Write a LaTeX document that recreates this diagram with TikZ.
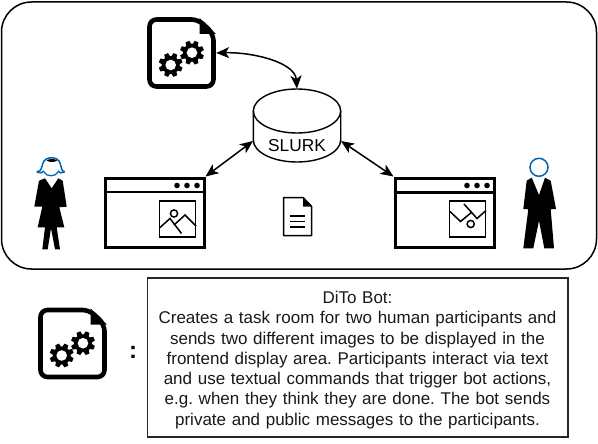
\documentclass[tikz,border=0pt]{standalone}
\usepackage{fontspec}
\setmainfont{Liberation Sans}
\usetikzlibrary{arrows.meta}
\tikzset{
  x=1pt,y=-1pt,
  link/.style={line width=1.5pt,{Stealth[length=13pt,width=11pt,inset=3.5pt]}-{Stealth[length=13pt,width=11pt,inset=3.5pt]}},
  hollow/.style={inner sep=0pt,draw=none},
  winframe/.style={draw,line width=3pt,inner sep=0pt,minimum width=99pt,minimum height=69pt},
  gear/.pic={
    \fill (0,0) circle (9);
    \foreach \a in {0,45,...,315}{\fill[rotate=\a+22.5] (-2.8,8) -- (-2,12) -- (2,12) -- (2.8,8) -- cycle;}
    \fill[white] (0,0) circle (5.3);
  },
  botdoc/.pic={
    \draw[line width=4.6pt,line join=round,rounded corners=7pt] (-32,-33.5) -- (17,-33.5) -- (32,-19) -- (32,33.5) -- (-32,33.5) -- cycle;
    \fill[line join=round] (18,-35) -- (34,-19.5) -- (34,-19) -- (18,-19) -- cycle;
    \pic at (-10.8,12) {gear};
    \pic at (10.5,-0.3) {gear};
  },
  dots/.pic={\foreach \d in {0,10,20}{\fill (\d,0) circle (2.8);}},
}
\begin{document}
\frenchspacing
\begin{tikzpicture}
\useasboundingbox (0,0) rectangle (598,444);
\fill[white] (0,0) rectangle (598,444);
% outer frame
\node[draw,line width=1.5pt,rounded corners=30pt,inner sep=0pt,minimum width=595pt,minimum height=267pt] (frame) at (299,135.5) {};
% bot
\node[hollow,minimum width=69pt,minimum height=72pt] (bot) at (181.5,53) {};
\pic at (bot.center) {botdoc};
% database
\node[hollow,minimum width=87.4pt,minimum height=73pt] (db) at (297,125.3) {};
\draw[line width=1.4pt] (253.3,111) arc[start angle=180,delta angle=360,x radius=43.7pt,y radius=22pt];
\draw[line width=1.4pt] (253.3,111) -- (253.3,140) arc[start angle=180,delta angle=180,x radius=43.7pt,y radius=22pt] -- (340.7,111);
\node[inner sep=0pt,font=\fontsize{17.3}{20}\selectfont] (slurk) at (297,145.5) {SLURK};
\coordinate (dbl) at (253,141);
\coordinate (dbr) at (341,141);
% left window
\node[winframe] (wl) at (154.5,212.5) {};
\draw[line width=2.8pt] (104,192) -- (205,192);
\pic at (177,185.5) {dots};
\node[draw,line width=1.9pt,inner sep=0pt,minimum width=36pt,minimum height=36pt] (il) at (177.5,219) {};
\draw[line width=1.5pt] (160,227.5) -- (170,218.5) -- (181.5,233.5);
\draw[line width=1.5pt] (174,225) -- (185,215) -- (196,226);
\draw[line width=1.5pt] (174,213.5) circle (3.6);
% right window
\node[winframe] (wr) at (444.5,212.5) {};
\draw[line width=2.8pt] (394,192.5) -- (495,192.5);
\pic at (467,185.5) {dots};
\node[draw,line width=1.9pt,inner sep=0pt,minimum width=36pt,minimum height=36pt] (ir) at (467.5,219) {};
\draw[line width=1.5pt] (450,211.5) -- (460.5,221.5) -- (472,212);
\draw[line width=1.5pt] (464,204) -- (477,218.5) -- (486,210.5);
\draw[line width=1.5pt] (470.7,224) circle (3.6);
% connectors
\draw[link] (bot.east) .. controls (252,52) and (295,62) .. (db.north);
\draw[link] (wl.north east) -- (dbl);
\draw[link] (dbr) -- (wr.north west);
% message document
\node[hollow,minimum width=29pt,minimum height=39pt] (msg) at (297.5,216.5) {};
\draw[line width=1.5pt,line join=round] (283.5,197.5) -- (303,197.5) -- (311.7,206.5) -- (311.7,235.5) -- (283.5,235.5) -- cycle;
\fill (303,197.5) -- (311.7,206.5) -- (303,206.5) -- cycle;
\foreach \yy in {216,221.3,226.8}{\draw[line width=1.5pt] (290,\yy) -- (305,\yy);}
% woman
\node[hollow,minimum width=32pt,minimum height=92pt] (woman) at (51.5,203.5) {};
\fill (45,178.3) -- (51.7,188.3) -- (58.3,178.3) -- (62.7,180.7) -- (66.7,206.7) -- (59.3,207.3) -- (64.3,227.3) -- (56.7,227.3) -- (60,249.3) -- (55,249.3) -- (51,228.3) -- (47.7,249.3) -- (42.3,249.3) -- (45,227.3) -- (37.7,227.3) -- (42.3,206.7) -- (34.3,206.7) -- (39,180.7) -- cycle;
\draw[line width=1.5pt,color=blue!45!cyan!70!black,line join=round] (36.7,171.7) .. controls (42,171.5) and (41,168) .. (43,163) .. controls (45,156) and (58,156) .. (60,163) .. controls (62,168) and (61,171.5) .. (64.7,171.7);
\draw[line width=1.5pt,color=blue!45!cyan!70!black] (36.7,171.7) .. controls (40,173.5) and (43,173) .. (44,171);
\draw[line width=1.5pt,color=blue!45!cyan!70!black] (64.7,171.7) .. controls (61,173.5) and (59,173) .. (58,171);
\draw[line width=1.3pt,color=blue!45!cyan!70!black] (44,172) .. controls (46,177) and (56,177) .. (58,172);
\fill (46.5,160.5) .. controls (49,158.5) and (55,158.5) .. (57,160.5) .. controls (55,162.5) and (49,162.5) .. (46.5,160.5) -- cycle;
% man
\node[hollow,minimum width=33pt,minimum height=92pt] (man) at (539,203.5) {};
\draw[line width=1.5pt,color=blue!45!cyan!70!black] (539,167.3) circle (9);
\fill (531.7,177.7) -- (539,195) -- (545,177.7) -- (550.7,180.7) -- (556,209) -- (550.7,209.3) -- (554,248.3) -- (544.3,248.3) -- (539,220.7) -- (533.3,248.3) -- (523.3,248.3) -- (528.3,209.3) -- (523.3,209) -- (526.7,180.7) -- cycle;
% legend
\node[hollow,minimum width=69pt,minimum height=72pt] (legend) at (72.5,343.5) {};
\pic at (legend.center) {botdoc};
\node[inner sep=0pt,font=\fontsize{24}{26}\bfseries\selectfont] (colon) at (133,352.5) {:};
\node[draw=black!85,line width=1.5pt,inner sep=0pt,minimum width=420.5pt,minimum height=159pt] (descbox) at (357.5,357.5) {};
\node[inner sep=0pt,align=center,text width=415pt,font=\fontsize{17}{20.3}\selectfont,text=black!90] (desc) at (357.5,360) {DiTo Bot:\\
Creates a task room for two human participants and\\
sends two different images to be displayed in the\\
frontend display area. Participants interact via text\\
and use textual commands that trigger bot actions,\\
e.g. when they think they are done. The bot sends\\
private and public messages to the participants.};
\end{tikzpicture}
\end{document}
